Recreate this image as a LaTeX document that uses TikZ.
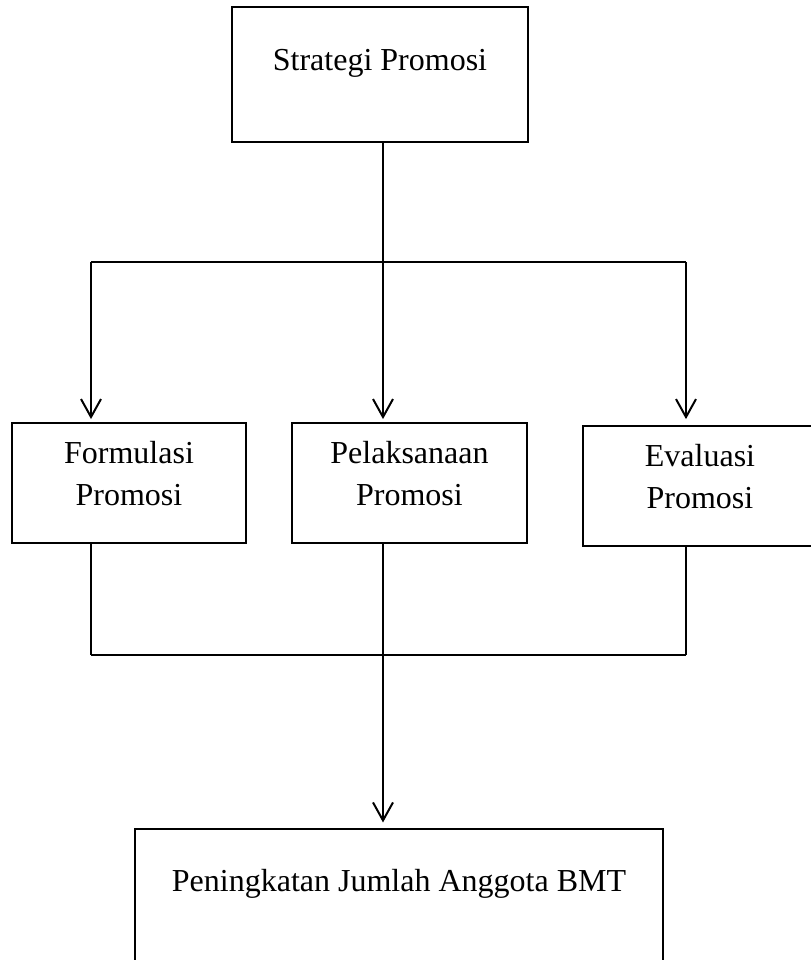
\documentclass[tikz,border=0pt]{standalone}
\usepackage{fontspec}
\setmainfont{Liberation Serif}
\usetikzlibrary{arrows.meta}

\begin{document}
\begin{tikzpicture}[x=0.375pt, y=-0.375pt, line width=0.75pt,
    box/.style={draw, rectangle, inner sep=0pt},
    label/.style={align=center, font=\fontsize{12pt}{15.75pt}\selectfont, inner sep=0pt},
    arrow/.style={-{Straight Barb[length=6.75pt, width=7.5pt]}}]
    \useasboundingbox (0,0) rectangle (811,960);

    \node (strategi) at (380, 74.5) [box, minimum width=111pt, minimum height=50.6pt] {};
    \node (strategi_text) at (380, 63) [label] {Strategi Promosi};

    \node (formulasi) at (129, 483) [box, minimum width=88.1pt, minimum height=45pt] {};
    \node (formulasi_text) at (129, 474) [label] {Formulasi\\Promosi};

    \node (pelaksanaan) at (409.5, 483) [box, minimum width=88.1pt, minimum height=45pt] {};
    \node (pelaksanaan_text) at (409.5, 474) [label] {Pelaksanaan\\Promosi};

    \node (evaluasi) at (700, 486) [box, minimum width=88.1pt, minimum height=45pt] {};
    \node (evaluasi_text) at (700, 477) [label] {Evaluasi\\Promosi};

    \node (anggota) at (399, 896) [box, minimum width=198pt, minimum height=50.6pt] {};
    \node (anggota_text) at (399, 883.5) [label] {Peningkatan Jumlah Anggota BMT};

    \coordinate (split_left) at (91, 262);
    \coordinate (split_mid) at (383, 262);
    \coordinate (split_right) at (686, 262);
    \coordinate (merge_left) at (91, 655);
    \coordinate (merge_mid) at (383, 655);
    \coordinate (merge_right) at (686, 655);

    \draw (strategi.south -| split_mid) -- (split_mid);
    \draw (split_left) -- (split_right);
    \draw [arrow, shorten >=1.1pt] (split_left) -- (split_left |- formulasi.north);
    \draw [arrow, shorten >=1.1pt] (split_mid) -- (split_mid |- pelaksanaan.north);
    \draw [arrow, shorten >=2.2pt] (split_right) -- (split_right |- evaluasi.north);

    \draw (merge_left |- formulasi.south) -- (merge_left);
    \draw (merge_right |- evaluasi.south) -- (merge_right);
    \draw (merge_left) -- (merge_right);
    \draw [arrow, shorten >=1.9pt] (merge_mid |- pelaksanaan.south) -- (merge_mid |- anggota.north);
\end{tikzpicture}
\end{document}
